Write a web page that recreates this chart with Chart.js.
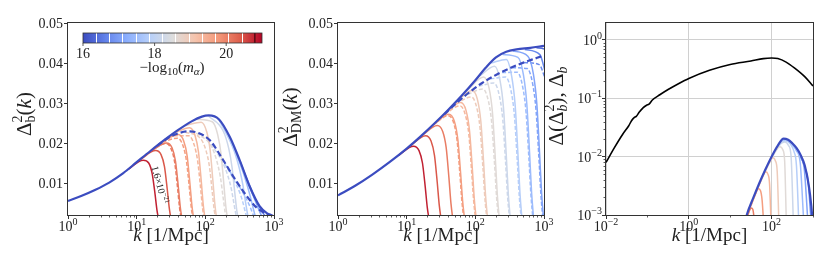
<!DOCTYPE html>
<html>
<head>
<meta charset="utf-8">
<script src="https://cdn.jsdelivr.net/npm/chart.js@4.4.0/dist/chart.umd.min.js"></script>
<style>
html,body{margin:0;padding:0;background:#fff;}
#wrap{position:relative;width:830px;height:271px;}
canvas{position:absolute;left:0;top:0;}
</style>
</head>
<body>
<div id="wrap">
<canvas id="c1" width="830" height="271"></canvas>
<canvas id="c2" width="830" height="271"></canvas>
<canvas id="c3" width="830" height="271"></canvas>
</div>
<script>
// -log10(m_alpha) of each curve, red first
const massLog=[20.8,20.43,20.06,19.69,19.32,18.95,18.58,18.21,17.84,17.47,17.1,16.73,16.36]
const cbarTicks=[16,18,20]
const linTicks=[0.01,0.02,0.03,0.04,0.05]

/* panel 1 : baryons, x = log10 k */
const bEnvLgK=[0,0.2,0.4,0.6,0.8,1.0,1.2,1.4,1.6,1.8,1.95,2.05,2.2,2.357,2.5,2.65,2.79,2.9,2.97,3.0]
const bEnvY=[0.0055,0.0068,0.0083,0.0101,0.0124,0.0152,0.018,0.0207,0.0232,0.0254,0.0266,0.0269,0.0259,0.0215,0.0157,0.009,0.0042,0.0024,0.0019,0.0016]
const bDashLgK=[1.3,1.45,1.6,1.75,1.9,2.07,2.25,2.42,2.6,2.75,2.9,2.97]
const bDashY=[0.0193,0.0212,0.0224,0.0229,0.0225,0.0206,0.016,0.0113,0.0068,0.0038,0.0022,0.0018]
const bSolidLgK=[
[0.875,1.095,1.175,1.225,1.265,1.295,1.325],
[1.055,1.275,1.355,1.405,1.445,1.475,1.505],
[1.215,1.435,1.515,1.565,1.605,1.635,1.665],
[1.385,1.605,1.685,1.735,1.775,1.805,1.835],
[1.55,1.77,1.85,1.9,1.94,1.97,2.0],
[1.72,1.94,2.02,2.07,2.11,2.14,2.17],
[1.88,2.1,2.18,2.23,2.27,2.3,2.33],
[2.04,2.26,2.34,2.39,2.43,2.46,2.49],
[2.2,2.42,2.5,2.55,2.59,2.62,2.65],
[2.32,2.54,2.62,2.67,2.71,2.74,2.77],
[2.44,2.66,2.74,2.79,2.83,2.86,2.89],
[2.51,2.73,2.81,2.86,2.9,2.93,2.96]]
const bSolidY=[
[0.0134,0.0157,0.0150,0.0124,0.0076,0.0033,0.0004],
[0.0159,0.0181,0.0171,0.0141,0.0085,0.0037,0.0004],
[0.0181,0.0200,0.0188,0.0155,0.0093,0.0040,0.0005],
[0.0204,0.0221,0.0205,0.0168,0.0100,0.0043,0.0005],
[0.0225,0.0238,0.0219,0.0178,0.0106,0.0045,0.0005],
[0.0244,0.0252,0.0228,0.0182,0.0106,0.0045,0.0005],
[0.0259,0.0253,0.0221,0.0171,0.0096,0.0039,0.0004],
[0.0268,0.0230,0.0187,0.0138,0.0074,0.0029,0.0003],
[0.0258,0.0180,0.0133,0.0092,0.0047,0.0018,0.0002],
[0.0224,0.0132,0.0088,0.0056,0.0028,0.0010,0.0001],
[0.0181,0.0083,0.0050,0.0029,0.0014,0.0005,0.0001],
[0.0152,0.0059,0.0033,0.0020,0.0009,0.0004,0.0001]]
const bDashIdx=[2,3,4,5,6,7,8,9]
const bDashedLgK=[
[1.205,1.425,1.505,1.555,1.595,1.625,1.655],
[1.375,1.595,1.675,1.725,1.765,1.795,1.825],
[1.54,1.76,1.84,1.89,1.93,1.96,1.99],
[1.71,1.93,2.01,2.06,2.1,2.13,2.16],
[1.87,2.09,2.17,2.22,2.26,2.29,2.32],
[2.03,2.25,2.33,2.38,2.42,2.45,2.48],
[2.19,2.41,2.49,2.54,2.58,2.61,2.64],
[2.31,2.53,2.61,2.66,2.7,2.73,2.76]]
const bDashedY=[
[0.018,0.0199,0.0184,0.015,0.0089,0.0038,0.0005],
[0.0202,0.0212,0.0193,0.0155,0.0092,0.0039,0.0005],
[0.0218,0.0218,0.0194,0.0153,0.0089,0.0037,0.0004],
[0.0227,0.0211,0.0181,0.0141,0.0079,0.0032,0.0004],
[0.0225,0.0191,0.0153,0.0114,0.0063,0.0025,0.0003],
[0.0209,0.0152,0.0117,0.0084,0.0045,0.0018,0.0002],
[0.0174,0.011,0.0081,0.0056,0.0029,0.0011,0.0001],
[0.0142,0.0081,0.0056,0.0037,0.0019,0.0007,0.0001]]

/* panel 2 : dark matter */
const dmEnvLgK=[0,0.25,0.5,0.75,1.0,1.2,1.4,1.6,1.8,2.0,2.15,2.3,2.45,2.6,2.8,3.0]
const dmEnvY=[0.0069,0.0093,0.0121,0.0152,0.0186,0.0216,0.0248,0.0282,0.0318,0.0357,0.0388,0.0414,0.0428,0.0434,0.0438,0.0443]
const dmDashLgK=[1.55,1.7,1.9,2.1,2.3,2.5,2.7,2.9,3.0]
const dmDashY=[0.0272,0.0296,0.0325,0.035,0.037,0.0387,0.0401,0.0413,0.0419]
const dmSolidLgK=[
[0.88,1.1,1.18,1.23,1.27,1.3,1.33],
[1.055,1.275,1.355,1.405,1.445,1.475,1.505],
[1.225,1.445,1.525,1.575,1.615,1.645,1.675],
[1.395,1.615,1.695,1.745,1.785,1.815,1.845],
[1.565,1.785,1.865,1.915,1.955,1.985,2.015],
[1.73,1.95,2.03,2.08,2.12,2.15,2.18],
[1.9,2.12,2.2,2.25,2.29,2.32,2.35],
[2.06,2.28,2.36,2.41,2.45,2.48,2.51],
[2.23,2.45,2.53,2.58,2.62,2.65,2.68],
[2.4,2.62,2.7,2.75,2.79,2.82,2.85],
[2.545,2.765,2.845,2.895,2.935,2.965,2.995],
[2.72,2.94,3.02],
[2.89,3.0,3.1]]
const dmSolidY=[
[0.0169,0.0192,0.0181,0.015,0.0091,0.0039,0.0005],
[0.0193,0.0218,0.0205,0.0169,0.0102,0.0044,0.0005],
[0.0219,0.0244,0.0229,0.0189,0.0114,0.0049,0.0006],
[0.0246,0.0272,0.0254,0.0209,0.0126,0.0055,0.0007],
[0.0275,0.0301,0.0281,0.0231,0.0139,0.006,0.0007],
[0.0303,0.0331,0.0309,0.0254,0.0153,0.0066,0.0008],
[0.0335,0.0365,0.0337,0.0275,0.0165,0.0071,0.0008],
[0.0367,0.0392,0.0356,0.0288,0.0171,0.0073,0.0009],
[0.04,0.0409,0.0366,0.0294,0.0174,0.0074,0.0009],
[0.0421,0.0414,0.0371,0.0297,0.0175,0.0074,0.0009],
[0.043,0.0417,0.0373,0.0299,0.0176,0.0075,0.0009],
[0.0434,0.0421,0.0377],
[0.0438,0.0435,0.042]]
const dmDashIdx=[3,4,5,6,7,8,9,10,11]
const dmDashedLgK=[
[1.385,1.605,1.685,1.735,1.775,1.805,1.835],
[1.555,1.775,1.855,1.905,1.945,1.975,2.005],
[1.72,1.94,2.02,2.07,2.11,2.14,2.17],
[1.89,2.11,2.19,2.24,2.28,2.31,2.34],
[2.05,2.27,2.35,2.4,2.44,2.47,2.5],
[2.22,2.44,2.52,2.57,2.61,2.64,2.67],
[2.39,2.61,2.69,2.74,2.78,2.81,2.84],
[2.535,2.755,2.835,2.885,2.925,2.955,2.985],
[2.71,2.93,3.02]]
const dmDashedY=[
[0.0245,0.0268,0.025,0.0205,0.0123,0.0053,0.0006],
[0.0272,0.0293,0.027,0.0222,0.0132,0.0057,0.0007],
[0.0298,0.0315,0.0289,0.0235,0.014,0.006,0.0007],
[0.0322,0.0335,0.0305,0.0248,0.0147,0.0063,0.0007],
[0.0342,0.035,0.0318,0.0258,0.0153,0.0065,0.0008],
[0.036,0.0365,0.033,0.0267,0.0158,0.0067,0.0008],
[0.0376,0.0377,0.034,0.0274,0.0162,0.0069,0.0008],
[0.0388,0.0386,0.0348,0.028,0.0166,0.0071,0.0008],
[0.0401,0.0396,0.036]]

/* panel 3 : log10 k vs log10 of the difference */
const ratioLgK=[-2.0,-1.8,-1.6,-1.45,-1.38,-1.32,-1.27,-1.2,-1.1,-1.02,-0.96,-0.88,-0.7,-0.5,-0.25,0,0.5,1.0,1.5,1.8,2.0,2.15,2.35,2.55,2.8,3.0]
const ratioLgY=[-2.1,-1.85,-1.62,-1.47,-1.38,-1.33,-1.31,-1.24,-1.16,-1.12,-1.1,-1.03,-0.94,-0.85,-0.75,-0.66,-0.52,-0.42,-0.36,-0.32,-0.31,-0.32,-0.38,-0.48,-0.63,-0.79]
const diffEnvLgK=[1.35,1.4,1.55,1.7,1.85,2.0,2.15,2.29,2.4,2.5,2.6,2.7,2.8,2.9,2.96,3.0]
const diffEnvLgY=[-3.15,-3.0,-2.72,-2.46,-2.22,-2.0,-1.81,-1.69,-1.71,-1.77,-1.85,-1.97,-2.15,-2.5,-2.85,-3.2]
const diffIdx=[2,3,4,5,6,7,8,9,10,11]
const diffLgK=[
[1.38,1.45,1.51,1.545,1.565,1.585],
[1.38,1.5,1.6,1.68,1.73,1.77,1.805],
[1.5,1.65,1.78,1.86,1.91,1.95,1.985],
[1.65,1.8,1.95,2.03,2.09,2.135,2.175],
[1.8,1.95,2.1,2.2,2.27,2.315,2.355],
[1.95,2.1,2.22,2.32,2.41,2.47,2.525],
[2.1,2.25,2.35,2.45,2.54,2.6,2.655],
[2.2,2.3,2.4,2.5,2.6,2.69,2.775],
[2.29,2.4,2.5,2.6,2.7,2.79,2.875],
[2.4,2.5,2.6,2.7,2.8,2.88,2.955]]
const diffLgY=[
[-3.1,-2.95,-2.88,-2.9,-2.98,-3.15],
[-3.1,-2.84,-2.66,-2.55,-2.58,-2.74,-3.1],
[-2.84,-2.57,-2.35,-2.26,-2.3,-2.46,-3.1],
[-2.57,-2.32,-2.1,-2.02,-2.07,-2.25,-3.1],
[-2.32,-2.1,-1.9,-1.83,-1.88,-2.07,-3.1],
[-2.1,-1.9,-1.78,-1.75,-1.81,-1.99,-3.1],
[-1.9,-1.75,-1.73,-1.78,-1.91,-2.15,-3.1],
[-1.79,-1.72,-1.73,-1.8,-1.9,-2.1,-3.1],
[-1.71,-1.72,-1.79,-1.87,-2.01,-2.22,-3.1],
[-1.715,-1.78,-1.86,-1.99,-2.18,-2.42,-3.1]]

const SER='"Liberation Serif","DejaVu Serif",serif'
const CW=[[59,76,192],[98,130,234],[141,176,254],[184,208,249],[221,221,221],[245,196,173],[244,154,123],[222,96,77],[180,4,38]]
function coolwarm(t){
t=Math.max(0,Math.min(1,t))
let p=t*8,i=Math.min(7,Math.floor(p)),f=p-i
let a=CW[i],b=CW[i+1]
return "rgb("+a.map((v,j)=>Math.round(v+(b[j]-v)*f)).join(",")+")"
}
const massColor=m=>coolwarm((m-16)/5)
const blue=coolwarm(0)

function curve(lgk,ys,color,w,dash,logY){
return{
data:lgk.map((v,j)=>({x:Math.pow(10,v),y:logY?Math.pow(10,ys[j]):ys[j]})),
borderColor:color,borderWidth:w,borderDash:dash||[],
pointRadius:0,fill:false,cubicInterpolationMode:"monotone"
}
}

function rich(ctx,segs,x,y,align){
let w=0,ws=[]
segs.forEach(g=>{
ctx.font=(g.it?"italic ":"")+g.s+"px "+SER
let m=ctx.measureText(g.t).width
ws.push(m)
if(g.adv!==false) w+=m
})
let cx=align==="center"?x-w/2:align==="right"?x-w:x
ctx.textAlign="left"
ctx.textBaseline="alphabetic"
segs.forEach((g,j)=>{
ctx.font=(g.it?"italic ":"")+g.s+"px "+SER
ctx.fillText(g.t,cx,y+(g.dy||0))
if(g.adv!==false) cx+=ws[j]
})
}
function pow10(ctx,e,x,y,align){
rich(ctx,[{t:"10",s:14},{t:e,s:10,dy:-6}],x,y,align)
}

function frame(ctx,a){
ctx.strokeStyle="#333"
ctx.lineWidth=1
ctx.strokeRect(Math.round(a.left)-0.5,Math.round(a.top)-0.5,Math.round(a.right-a.left)+1,Math.round(a.bottom-a.top)+1)
}
function minorX(ctx,chart,vals){
let s=chart.scales.x,b=chart.chartArea.bottom
ctx.strokeStyle="#333"
ctx.lineWidth=0.8
vals.forEach(v=>{
let px=Math.round(s.getPixelForValue(v))+0.5
ctx.beginPath();ctx.moveTo(px,b);ctx.lineTo(px,b+2.5);ctx.stroke()
})
}
function minorY(ctx,chart,vals){
let s=chart.scales.y,l=chart.chartArea.left
ctx.strokeStyle="#333"
ctx.lineWidth=0.8
vals.forEach(v=>{
let py=Math.round(s.getPixelForValue(v))+0.5
ctx.beginPath();ctx.moveTo(l,py);ctx.lineTo(l-2.5,py);ctx.stroke()
})
}
function yTitle(ctx,segs,bx,cy){
ctx.save()
ctx.translate(bx,cy)
ctx.rotate(-Math.PI/2)
rich(ctx,segs,0,0,"center")
ctx.restore()
}
function xTitle(ctx,a){
rich(ctx,[{t:"k",s:19,it:true},{t:" [1/Mpc]",s:19}],(a.left+a.right)/2,241,"center")
}

const decadeMinors=[]
;[1,10,100].forEach(d=>{for(let m=2;m<10;m++) decadeMinors.push(m*d)})

function linearDecor(chart,title,bx,cy){
let ctx=chart.ctx,a=chart.chartArea
ctx.save()
minorX(ctx,chart,decadeMinors)
frame(ctx,a)
ctx.fillStyle="#222"
;["0","1","2","3"].forEach(e=>pow10(ctx,e,chart.scales.x.getPixelForValue(Math.pow(10,+e)),231,"center"))
linTicks.forEach(v=>{
ctx.font="14px "+SER
ctx.textAlign="right"
ctx.textBaseline="alphabetic"
ctx.fillText(v.toFixed(2),a.left-5,chart.scales.y.getPixelForValue(v)+4.5)
})
xTitle(ctx,a)
yTitle(ctx,title,bx,cy)
ctx.restore()
}

function colorbar(chart){
let ctx=chart.ctx
let x0=83,x1=262,y0=33,y1=43
let px=m=>x0+(m-16)/5*(x1-x0)
ctx.save()
let g=ctx.createLinearGradient(x0,0,x1,0)
CW.forEach((c,i)=>g.addColorStop(i/8,"rgb("+c.join(",")+")"))
ctx.fillStyle=g
ctx.fillRect(x0,y0,x1-x0,y1-y0)
ctx.lineWidth=1
massLog.slice(1).forEach(m=>{
ctx.strokeStyle="#fff"
ctx.beginPath();ctx.moveTo(Math.round(px(m))+0.5,y0);ctx.lineTo(Math.round(px(m))+0.5,y1);ctx.stroke()
})
ctx.strokeStyle="#5a0a14"
ctx.lineWidth=1.5
ctx.beginPath();ctx.moveTo(px(massLog[0]),y0);ctx.lineTo(px(massLog[0]),y1);ctx.stroke()
ctx.strokeStyle="#333"
ctx.lineWidth=0.8
ctx.strokeRect(x0,y0,x1-x0,y1-y0)
ctx.fillStyle="#222"
cbarTicks.forEach(t=>{
ctx.beginPath();ctx.moveTo(px(t),y1);ctx.lineTo(px(t),y1+3);ctx.stroke()
ctx.font="14px "+SER
ctx.textAlign="center"
ctx.textBaseline="alphabetic"
ctx.fillText(String(t),px(t),58)
})
rich(ctx,[{t:"\u2212log",s:15},{t:"10",s:11,dy:3},{t:"(",s:15},{t:"m",s:15,it:true},{t:"\u03b1",s:11,it:true,dy:3},{t:")",s:15}],172,72,"center")
// label along the reddest curve
ctx.translate(160,185)
ctx.rotate(74.6*Math.PI/180)
rich(ctx,[{t:"1.6\u00d710",s:10},{t:"\u221221",s:7,dy:-4}],0,3.5,"center")
ctx.restore()
}

function makeChart(id,p,datasets,decor){
return new Chart(document.getElementById(id),{
type:"line",
data:{datasets:datasets},
options:{
responsive:false,animation:false,events:[],
layout:{padding:{left:p.L-5,right:830-p.R,top:23,bottom:51}},
plugins:{legend:{display:false},tooltip:{enabled:false}},
scales:{
x:{type:"logarithmic",min:p.xMin,max:p.xMax,
afterBuildTicks:s=>{s.ticks=p.xMajor.map(v=>({value:v}))},
afterFit:s=>{s.height=5},
ticks:{display:false},
grid:{drawOnChartArea:!!p.grid,color:"#d0d0d0",lineWidth:1,tickColor:"#333",tickLength:4,tickWidth:1},
border:{display:false}},
y:{type:p.yType,min:p.yMin,max:p.yMax,
afterBuildTicks:s=>{s.ticks=p.yMajor.map(v=>({value:v}))},
afterFit:s=>{s.width=5},
ticks:{display:false},
grid:{drawOnChartArea:!!p.grid,color:"#d0d0d0",lineWidth:1,tickColor:"#333",tickLength:4,tickWidth:1},
border:{display:false}}
}
},
plugins:[{id:"decor",afterDraw:decor}]
})
}

/* PANEL 1 */
let ds1=[curve(bEnvLgK,bEnvY,blue,2.2),curve(bDashLgK,bDashY,blue,2.2,[6,3])]
bSolidLgK.forEach((k,i)=>ds1.push(curve(k,bSolidY[i],massColor(massLog[i]),1.5)))
bDashIdx.forEach((m,j)=>ds1.push(curve(bDashedLgK[j],bDashedY[j],massColor(massLog[m]),1.5,[4,2])))
makeChart("c1",{L:68,R:274,xMin:1,xMax:1000,xMajor:[1,10,100,1000],yType:"linear",yMin:0.002,yMax:0.05,yMajor:linTicks},ds1,chart=>{
linearDecor(chart,[{t:"\u0394",s:21},{t:"2",s:14,dy:-9,adv:false},{t:"b",s:14,dy:4},{t:"(",s:21},{t:"k",s:21,it:true},{t:")",s:21}],31,114)
colorbar(chart)
})

/* PANEL 2 */
let ds2=[curve(dmEnvLgK,dmEnvY,blue,2.2),curve(dmDashLgK,dmDashY,blue,2.2,[6,3])]
dmSolidLgK.forEach((k,i)=>ds2.push(curve(k,dmSolidY[i],massColor(massLog[i]),1.5)))
dmDashIdx.forEach((m,j)=>ds2.push(curve(dmDashedLgK[j],dmDashedY[j],massColor(massLog[m]),1.5,[4,2])))
makeChart("c2",{L:338,R:544,xMin:1,xMax:1000,xMajor:[1,10,100,1000],yType:"linear",yMin:0.002,yMax:0.05,yMajor:linTicks},ds2,chart=>{
linearDecor(chart,[{t:"\u0394",s:21},{t:"2",s:14,dy:-9,adv:false},{t:"DM",s:14,dy:4},{t:"(",s:21},{t:"k",s:21,it:true},{t:")",s:21}],297,117)
})

/* PANEL 3 */
let ds3=[curve(ratioLgK,ratioLgY,"#000",1.6,null,true),curve(diffEnvLgK,diffEnvLgY,blue,2.2,null,true)]
diffIdx.forEach((m,j)=>ds3.push(curve(diffLgK[j],diffLgY[j],massColor(massLog[m]),1.5,null,true)))
const yMinor3=[]
;[0.001,0.01,0.1].forEach(d=>{for(let m=2;m<10;m++) yMinor3.push(m*d)})
makeChart("c3",{L:606,R:813,xMin:0.01,xMax:1000,xMajor:[0.01,1,100],yType:"logarithmic",yMin:0.001,yMax:1.95,yMajor:[0.001,0.01,0.1,1],grid:true},ds3,chart=>{
let ctx=chart.ctx,a=chart.chartArea
ctx.save()
minorX(ctx,chart,[0.1,10,1000])
minorY(ctx,chart,yMinor3)
frame(ctx,a)
ctx.fillStyle="#222"
;[["\u22122",0.01],["0",1],["2",100]].forEach(t=>pow10(ctx,t[0],chart.scales.x.getPixelForValue(t[1]),231,"center"))
;[["\u22123",0.001],["\u22122",0.01],["\u22121",0.1],["0",1]].forEach(t=>pow10(ctx,t[0],a.left-4,chart.scales.y.getPixelForValue(t[1])+5,"right"))
xTitle(ctx,a)
yTitle(ctx,[{t:"\u0394(\u0394",s:21},{t:"2",s:14,dy:-9,adv:false},{t:"b",s:14,it:true,dy:4},{t:"), \u0394",s:21},{t:"b",s:14,it:true,dy:4}],563,106)
ctx.restore()
})
</script>
</body>
</html>
